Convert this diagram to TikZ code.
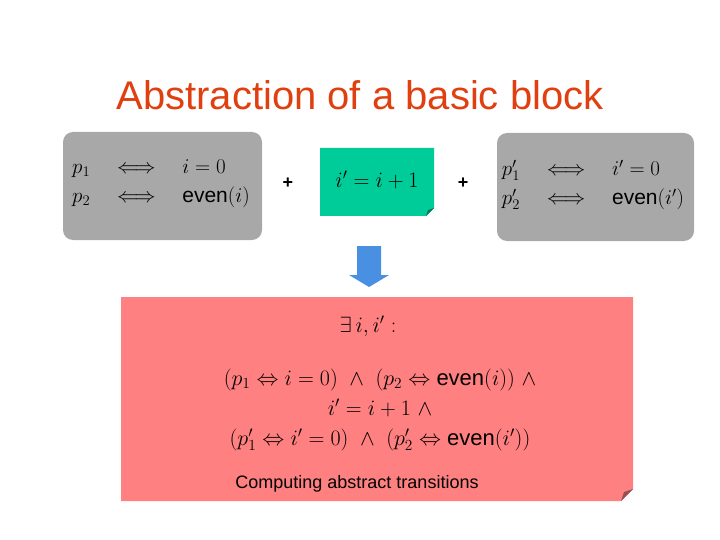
\documentclass[tikz,border=0pt]{standalone}
\usepackage{amsmath}
\usepackage{fix-cm}
\usepackage{fontspec}
\setsansfont{Liberation Sans}
\usetikzlibrary{shapes,arrows,positioning,calc}
\definecolor{titleorange}{RGB}{224,64,16}
\definecolor{boxgray}{RGB}{168,168,168}
\definecolor{stepgreen}{RGB}{0,204,153}
\definecolor{arrowblue}{RGB}{74,144,226}
\definecolor{resultpink}{RGB}{255,128,128}
\newcommand{\ev}{\textsf{even}}
\tikzset{
    bigmath/.style={font=\fontsize{22}{29}\selectfont},
    predbox/.style={rectangle, fill=boxgray, rounded corners=10pt, minimum height=108pt}
}

\begin{document}
\begin{tikzpicture}[x=1pt,y=-1pt]
    \useasboundingbox (0,0) rectangle (720,540);

    % Title
    \node[text=titleorange, font=\sffamily\fontsize{40}{44}\selectfont] (title) at (360,95) {Abstraction of a basic block};

    % Predicates before
    \node[predbox, minimum width=199pt] (pre) at (162.5,186) {};
    \node[align=left, bigmath, font=\fontsize{21}{29}\selectfont] at (161,184) {$p_1 \quad\Longleftrightarrow\quad i=0$\\$p_2 \quad\Longleftrightarrow\quad \ev(i)$};

    \node[font=\sffamily\bfseries\fontsize{18}{20}\selectfont] (plusa) at (288,183) {+};

    % Statement
    \fill[stepgreen] (320,148) -- (434,148) -- (434,208) -- (426,216) -- (320,216) -- cycle;
    \fill[stepgreen!60!black] (434,208) -- (426,216) -- (428,210) -- cycle;
    \node[bigmath] (stmt) at (377,180) {$i' = i+1$};

    \node[font=\sffamily\bfseries\fontsize{18}{20}\selectfont] (plusb) at (463,183) {+};

    % Predicates after
    \node[predbox, minimum width=197pt] (post) at (595.5,187) {};
    \node[align=left, bigmath, font=\fontsize{21}{29}\selectfont] at (593,185) {$p'_1 \quad\Longleftrightarrow\quad i'=0$\\$p'_2 \quad\Longleftrightarrow\quad \ev(i')$};

    % Arrow
    \fill[arrowblue] (357,246) -- (381,246) -- (381,275) -- (389,275) -- (369,287) -- (349,275) -- (357,275) -- cycle;

    % Result
    \fill[resultpink] (121,297) -- (633,297) -- (633,489) -- (621,501) -- (121,501) -- cycle;
    \fill[resultpink!60!black] (633,489) -- (621,501) -- (624,492) -- cycle;
    \node[bigmath] (ex) at (368,326) {$\exists\, i, i' :$};
    \node[bigmath, align=center, font=\fontsize{22}{30}\selectfont] (formula) at (380,410) {$(p_1 \Leftrightarrow i=0) \ \wedge\ (p_2 \Leftrightarrow \ev(i)) \ \wedge$\\$i'=i+1 \ \wedge$\\$(p'_1 \Leftrightarrow i'=0) \ \wedge\ (p'_2 \Leftrightarrow \ev(i'))$};
    \node[font=\sffamily\fontsize{18}{20}\selectfont] (caption) at (357,484) {Computing abstract transitions};
\end{tikzpicture}
\end{document}
